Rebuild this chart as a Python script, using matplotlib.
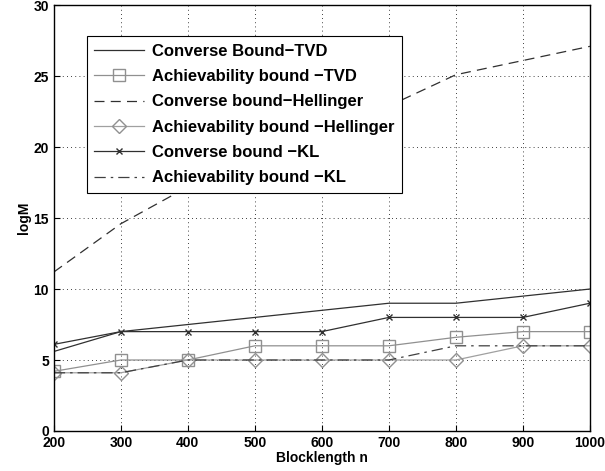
import matplotlib
matplotlib.use("Agg")
import matplotlib.pyplot as plt

plt.rcParams['font.family'] = ['Liberation Sans', 'DejaVu Sans']
plt.rcParams['font.weight'] = 'bold'

n = [200, 300, 400, 500, 600, 700, 800, 900, 1000]
conv_tvd = [5.6, 7, 7.5, 8, 8.5, 9, 9, 9.5, 10]
ach_tvd = [4.2, 5, 5, 6, 6, 6, 6.6, 7, 7]
conv_hel = [11.2, 14.6, 17.2, 19.3, 21.2, 22.9, 25.1, 26.1, 27.1]
ach_hel = [4.1, 4.1, 5, 5, 5, 5, 5, 6, 6]
conv_kl = [6.1, 7, 7, 7, 7, 8, 8, 8, 9]
ach_kl = [4.1, 4.1, 5, 5, 5, 5, 6, 6, 6]

fig = plt.figure(figsize=(6.05, 4.71), dpi=100)
ax = fig.add_axes([0.089, 0.085, 0.886, 0.904])

ax.plot(n, conv_tvd, color='#303030', lw=0.9, label='Converse Bound\u2212TVD')
ax.plot(n, ach_tvd, color='#909090', lw=0.9, marker='s', ms=8, mfc='none',
        mec='#909090', label='Achievability bound \u2212TVD')
ax.plot(n, conv_hel, color='#303030', lw=0.9, ls=(0, (8, 5)),
        label='Converse bound\u2212Hellinger')
ax.plot(n, ach_hel, color='#a0a0a0', lw=0.9, marker='D', ms=7.5, mfc='none',
        mec='#909090', label='Achievability bound \u2212Hellinger')
ax.plot(n, conv_kl, color='#303030', lw=0.9, marker='x', ms=4,
        label='Converse bound \u2212KL')
ax.plot(n, ach_kl, color='#404040', lw=0.9, ls=(0, (9, 4, 2, 4)),
        label='Achievability bound \u2212KL')

ax.set_xlim(200, 1000)
ax.set_ylim(0, 30)
ax.set_xticks(range(200, 1001, 100))
ax.set_yticks(range(0, 31, 5))
ax.tick_params(direction='in', labelsize=10, length=4)
for lab in ax.get_xticklabels() + ax.get_yticklabels():
    lab.set_fontweight('bold')
ax.grid(True, color='black', ls=(0, (1, 4)), lw=0.6)
for s in ax.spines.values():
    s.set_linewidth(1.0)

ax.set_xlabel('Blocklength n', fontsize=10, fontweight='bold', labelpad=1)
ax.set_ylabel('logM', fontsize=10, fontweight='bold', labelpad=2)

leg = ax.legend(loc='upper left', bbox_to_anchor=(0.0616, 0.927), fontsize=12,
                handlelength=3.0, frameon=True, fancybox=False,
                edgecolor='black', framealpha=1, borderpad=0.45,
                labelspacing=0.62, handletextpad=0.45, borderaxespad=0)
leg.get_frame().set_linewidth(0.8)
for t in leg.get_texts():
    t.set_fontweight('bold')

fig.savefig('out.png', dpi=100)
